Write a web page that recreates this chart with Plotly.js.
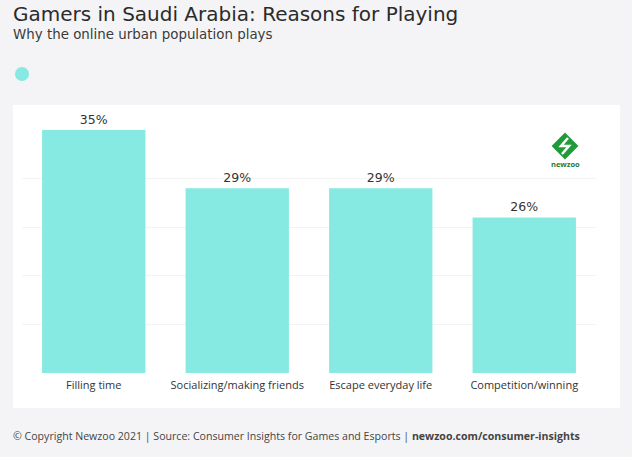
<!DOCTYPE html>
<html>
<head>
<meta charset="utf-8">
<script src="https://cdn.plot.ly/plotly-3.0.1.min.js"></script>
<style>
  html, body { margin: 0; padding: 0; background: #f4f4f6; }
  #chart { width: 632px; height: 457px; }
</style>
</head>
<body>
<div id="chart"></div>
<script>
// reasons for playing, share of online urban population
const reasons = ['Filling time', 'Socializing/making friends', 'Escape everyday life', 'Competition/winning'];
const shares = [35, 29, 29, 26];

const barColor = '#86e9e2';
const textColor = '#333333';
const wideFont = '"DejaVu Sans", sans-serif';

const trace = {
    x: reasons,
    y: shares,
    type: 'bar',
    marker: { color: barColor },
    texttemplate: '%{y}%',
    textposition: 'outside',
    textfont: { size: 12.5, color: textColor, family: wideFont },
    cliponaxis: false,
    hoverinfo: 'none',
    showlegend: false
};

const layout = {
    width: 632,
    height: 457,
    margin: { l: 22, r: 36, t: 130, b: 84 },
    paper_bgcolor: '#f4f4f6',
    plot_bgcolor: '#ffffff',
    font: { family: '"Open Sans", sans-serif', color: textColor },
    bargap: 0.28,
    title: {
        text: 'Gamers in Saudi Arabia: Reasons for Playing',
        font: { size: 20, color: '#2b2b2b', family: wideFont },
        xref: 'container', x: 13 / 632, xanchor: 'left',
        yref: 'container', y: 1 - 14 / 457, yanchor: 'middle'
    },
    xaxis: {
        showgrid: false,
        zeroline: false,
        showline: false,
        ticks: '',
        ticklabelstandoff: 4,
        tickfont: { size: 11, color: textColor }
    },
    yaxis: {
        range: [10, 35],
        dtick: 5,
        showticklabels: false,
        gridcolor: '#f3f3f3',
        zeroline: false,
        showline: false
    },
    shapes: [
        // white card behind the plot
        { type: 'rect', xref: 'paper', yref: 'paper', layer: 'below',
          x0: -0.0157, x1: 1.042, y0: -0.144, y1: 1.103,
          fillcolor: '#ffffff', line: { width: 0 } },
        // legend dot
        { type: 'circle', xref: 'paper', yref: 'paper',
          xsizemode: 'pixel', ysizemode: 'pixel',
          xanchor: 0, yanchor: (373 - 74) / 243,
          x0: -7, x1: 7, y0: -7, y1: 7,
          fillcolor: barColor, line: { width: 0 } },
        // newzoo logo diamond
        { type: 'path', xref: 'paper', yref: 'paper',
          xsizemode: 'pixel', ysizemode: 'pixel',
          xanchor: (565 - 22) / 574, yanchor: (373 - 146) / 243,
          path: 'M 0 12 L 12 0 L 0 -12 L -12 0 Z',
          fillcolor: '#1f9b3a', line: { color: '#1f9b3a', width: 2 } },
        { type: 'path', xref: 'paper', yref: 'paper',
          xsizemode: 'pixel', ysizemode: 'pixel',
          xanchor: (565 - 22) / 574, yanchor: (373 - 146) / 243,
          path: 'M 3 8 L -4 0 L 4 0 L -3 -8',
          line: { color: '#ffffff', width: 2.5 } }
    ],
    annotations: [
        { text: 'Why the online urban population plays',
          xref: 'paper', yref: 'paper', x: (11 - 22) / 574, y: (373 - 35) / 243,
          xanchor: 'left', yanchor: 'middle', showarrow: false,
          font: { size: 13.4, color: '#3a3a3a', family: wideFont } },
        { text: 'newzoo',
          xref: 'paper', yref: 'paper', x: (565 - 22) / 574, y: (373 - 164) / 243,
          xanchor: 'center', yanchor: 'middle', showarrow: false,
          font: { size: 7.5, color: '#1f7a2e', weight: 'bold' } },
        { text: '© Copyright Newzoo 2021 | Source: Consumer Insights for Games and Esports | <b>newzoo.com/consumer-insights</b>',
          xref: 'paper', yref: 'paper', x: (11 - 22) / 574, y: (373 - 436) / 243,
          xanchor: 'left', yanchor: 'middle', showarrow: false,
          font: { size: 10.6, color: '#444444' } }
    ]
};

Plotly.newPlot('chart', [trace], layout, { displayModeBar: false, staticPlot: true });
</script>
</body>
</html>
